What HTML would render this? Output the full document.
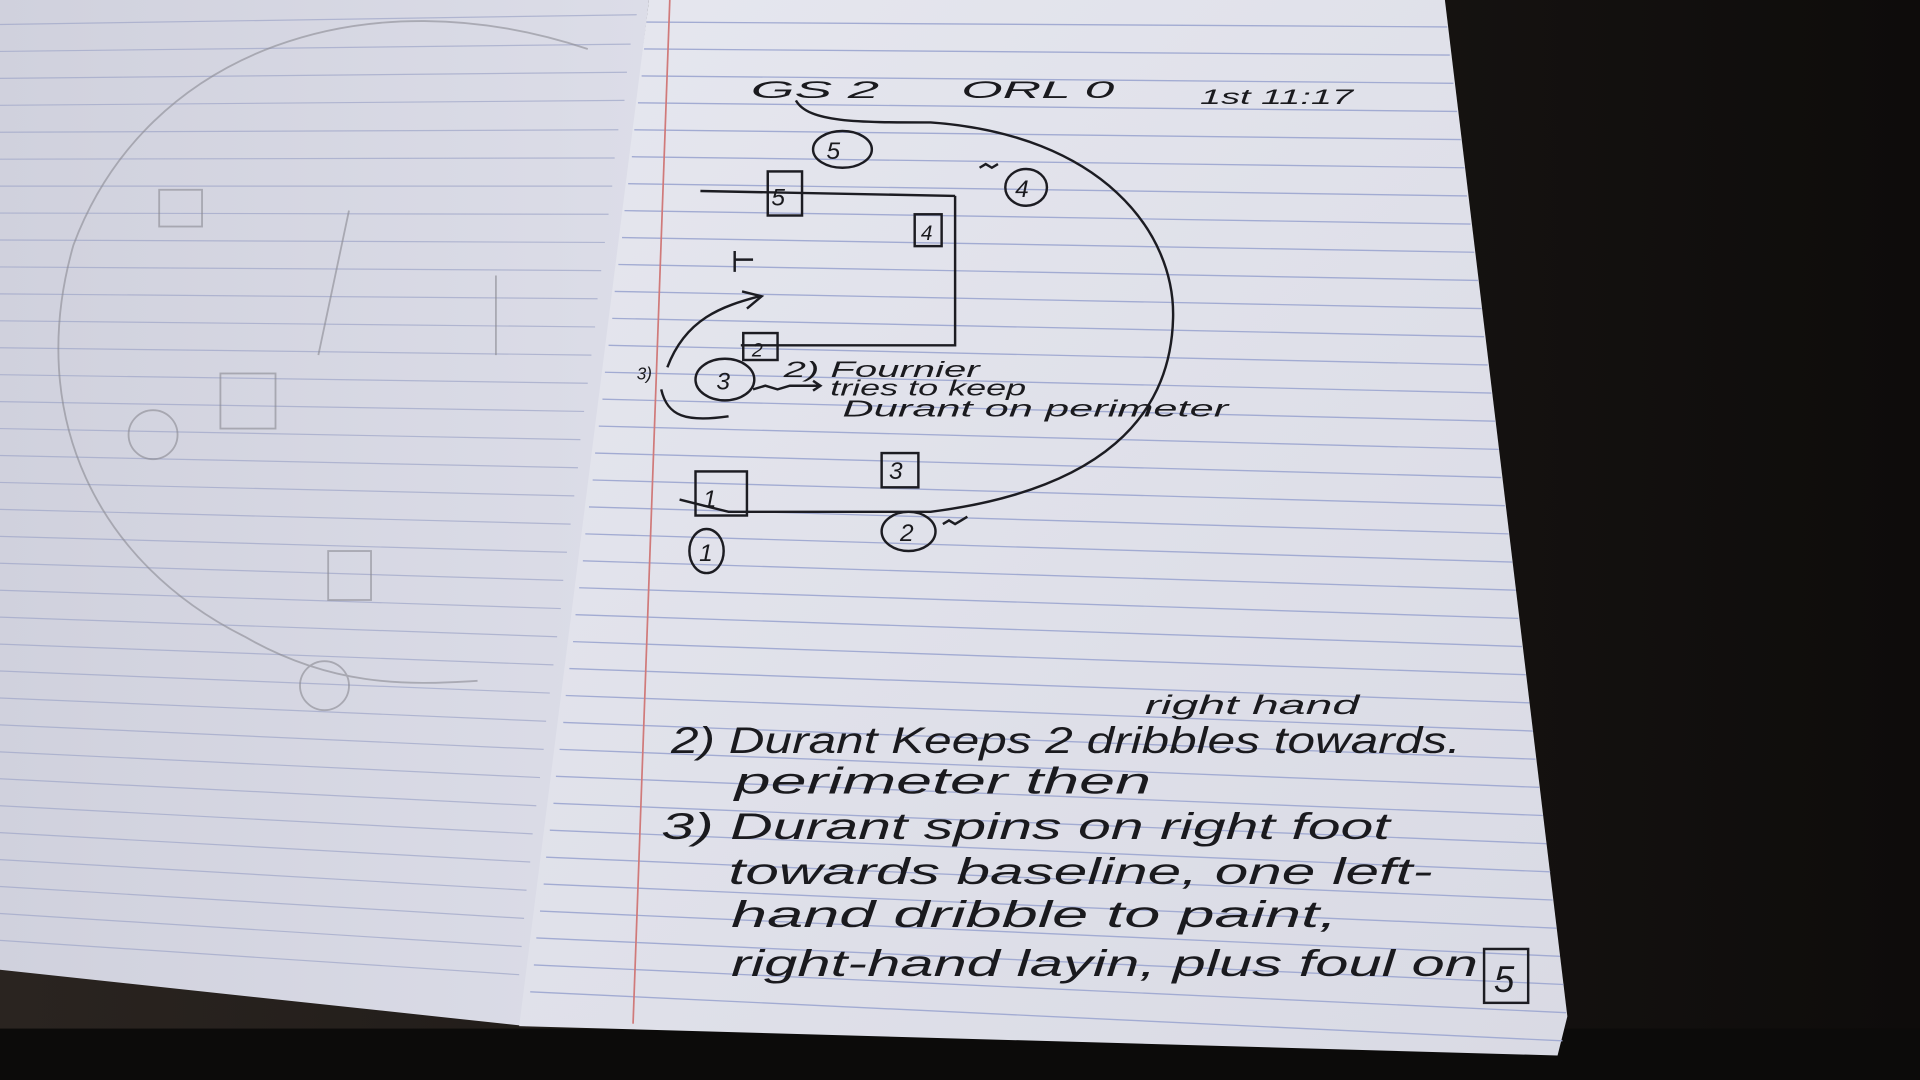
<!DOCTYPE html>
<html><head><meta charset="utf-8"><style>
html,body{margin:0;padding:0;background:#151210;width:1920px;height:1080px;overflow:hidden}
svg{display:block}
text{font-family:"Liberation Sans",sans-serif;font-style:italic;fill:#1a1a1e}
</style></head><body>
<svg width="1920" height="1080" viewBox="0 0 1568 882" preserveAspectRatio="none">
<defs>
<linearGradient id="rp" x1="0" y1="0" x2="1" y2="1">
<stop offset="0" stop-color="#e6e7ef"/><stop offset="1" stop-color="#d9dae4"/></linearGradient>
<linearGradient id="lp" x1="0" y1="0" x2="1" y2="0">
<stop offset="0" stop-color="#d0d1dd"/><stop offset="1" stop-color="#dcdde8"/></linearGradient>
<linearGradient id="bg" x1="0" y1="0" x2="1" y2="0">
<stop offset="0" stop-color="#2a2420"/><stop offset="1" stop-color="#0e0c0b"/></linearGradient>
</defs>
<rect width="1568" height="882" fill="url(#bg)"/>
<rect y="840" width="1568" height="42" fill="#0c0b0a"/>
<polygon points="0,0 530,0 430,838 0,792" fill="url(#lp)"/>
<g stroke="#9fa6c8" stroke-width="1" opacity="0.7">
<line x1="0" y1="20" x2="520" y2="12"/><line x1="0" y1="42" x2="515" y2="36"/>
<line x1="0" y1="64" x2="512" y2="59"/><line x1="0" y1="86" x2="510" y2="82"/>
<line x1="0" y1="108" x2="505" y2="106"/><line x1="0" y1="130" x2="502" y2="129"/>
<line x1="0" y1="152" x2="500" y2="152"/><line x1="0" y1="174" x2="497" y2="175"/>
<line x1="0" y1="196" x2="494" y2="198"/><line x1="0" y1="218" x2="491" y2="221"/>
<line x1="0" y1="240" x2="488" y2="244"/><line x1="0" y1="262" x2="486" y2="267"/>
<line x1="0" y1="284" x2="483" y2="290"/><line x1="0" y1="306" x2="480" y2="313"/>
<line x1="0" y1="328" x2="477" y2="336"/><line x1="0" y1="350" x2="474" y2="359"/>
<line x1="0" y1="372" x2="472" y2="382"/><line x1="0" y1="394" x2="469" y2="405"/>
<line x1="0" y1="416" x2="466" y2="428"/><line x1="0" y1="438" x2="463" y2="451"/>
<line x1="0" y1="460" x2="460" y2="474"/><line x1="0" y1="482" x2="458" y2="497"/>
<line x1="0" y1="504" x2="455" y2="520"/><line x1="0" y1="526" x2="452" y2="543"/>
<line x1="0" y1="548" x2="449" y2="566"/><line x1="0" y1="570" x2="446" y2="589"/>
<line x1="0" y1="592" x2="444" y2="612"/><line x1="0" y1="614" x2="441" y2="635"/>
<line x1="0" y1="636" x2="438" y2="658"/><line x1="0" y1="658" x2="435" y2="681"/>
<line x1="0" y1="680" x2="433" y2="704"/><line x1="0" y1="702" x2="430" y2="727"/>
<line x1="0" y1="724" x2="428" y2="750"/><line x1="0" y1="746" x2="426" y2="773"/>
<line x1="0" y1="768" x2="424" y2="796"/>
</g>
<g fill="none" stroke="#8a8a92" stroke-width="1.5" opacity="0.6">
<path d="M480,40 C300,-20 120,40 60,200 C20,340 80,460 200,520 C270,560 330,560 390,556"/>
<rect x="130" y="155" width="35" height="30"/><rect x="180" y="305" width="45" height="45"/>
<rect x="268" y="450" width="35" height="40"/><circle cx="265" cy="560" r="20"/>
<circle cx="125" cy="355" r="20"/><path d="M285,172 L260,290 M405,225 L405,290"/>
</g>
<polygon points="530,0 1180,0 1280,830 1272,862 424,838" fill="url(#rp)"/>
<g stroke="#a2abd2" stroke-width="1.1">
<line x1="528" y1="18" x2="1182" y2="22"/>
<line x1="526" y1="40" x2="1184" y2="45"/><line x1="524" y1="62" x2="1187" y2="68"/>
<line x1="521" y1="84" x2="1190" y2="91"/><line x1="518" y1="106" x2="1193" y2="114"/>
<line x1="516" y1="128" x2="1196" y2="137"/><line x1="513" y1="150" x2="1198" y2="160"/>
<line x1="510" y1="172" x2="1201" y2="183"/><line x1="508" y1="194" x2="1204" y2="206"/>
<line x1="505" y1="216" x2="1207" y2="229"/><line x1="502" y1="238" x2="1210" y2="252"/>
<line x1="500" y1="260" x2="1212" y2="275"/><line x1="497" y1="282" x2="1215" y2="298"/>
<line x1="494" y1="304" x2="1218" y2="321"/><line x1="492" y1="326" x2="1221" y2="344"/>
<line x1="489" y1="348" x2="1224" y2="367"/><line x1="486" y1="370" x2="1226" y2="390"/>
<line x1="484" y1="392" x2="1229" y2="413"/><line x1="481" y1="414" x2="1232" y2="436"/>
<line x1="478" y1="436" x2="1235" y2="459"/><line x1="476" y1="458" x2="1238" y2="482"/>
<line x1="473" y1="480" x2="1240" y2="505"/><line x1="470" y1="502" x2="1243" y2="528"/>
<line x1="468" y1="524" x2="1246" y2="551"/><line x1="465" y1="546" x2="1249" y2="574"/>
<line x1="462" y1="568" x2="1252" y2="597"/><line x1="460" y1="590" x2="1254" y2="620"/>
<line x1="457" y1="612" x2="1257" y2="643"/><line x1="454" y1="634" x2="1260" y2="666"/>
<line x1="452" y1="656" x2="1263" y2="689"/><line x1="449" y1="678" x2="1266" y2="712"/>
<line x1="446" y1="700" x2="1268" y2="735"/><line x1="444" y1="722" x2="1271" y2="758"/>
<line x1="441" y1="744" x2="1274" y2="781"/><line x1="438" y1="766" x2="1277" y2="804"/>
<line x1="436" y1="788" x2="1279" y2="827"/><line x1="433" y1="810" x2="1276" y2="850"/>
</g>
<line x1="547" y1="0" x2="517" y2="836" stroke="#d07a7a" stroke-width="1.4"/>
<g fill="none" stroke="#1c1c22" stroke-width="2">
<path d="M650,82 C660,100 700,100 760,100 C900,110 960,190 958,260 C956,340 900,400 760,418 L595,418 L555,408"/>
<path d="M572,156 L780,160 M780,160 L780,282 L605,282"/>
<path d="M600,205 L600,222 M600,212 L615,212"/>
<path d="M545,300 C560,260 590,250 620,242 M606,238 L622,242 L610,252"/>
<path d="M540,318 C545,340 560,345 595,340"/>
<path d="M800,137 l5,-3 5,3 5,-3"/><path d="M770,428 l5,-3 5,3 5,-3 5,-3"/>
<path d="M615,318 l10,-3 10,3 10,-3 l25,0 m-6,-4 l6,4 -6,4"/>
<rect x="627" y="140" width="28" height="36"/>
<rect x="747" y="175" width="22" height="26"/>
<rect x="607" y="272" width="28" height="22"/>
<rect x="720" y="370" width="30" height="28"/>
<rect x="568" y="385" width="42" height="36"/>
<ellipse cx="688" cy="122" rx="24" ry="15"/>
<ellipse cx="838" cy="153" rx="17" ry="15"/>
<ellipse cx="592" cy="310" rx="24" ry="17"/>
<ellipse cx="742" cy="434" rx="22" ry="16"/>
<ellipse cx="577" cy="450" rx="14" ry="18"/>
<rect x="1212" y="775" width="36" height="44"/>
</g>
<g font-size="20">
<text x="613" y="80" textLength="105" lengthAdjust="spacingAndGlyphs">GS 2</text>
<text x="785" y="80" textLength="125" lengthAdjust="spacingAndGlyphs">ORL 0</text>
<text x="980" y="85" font-size="17" textLength="125" lengthAdjust="spacingAndGlyphs">1st 11:17</text>
<text x="675" y="130">5</text><text x="630" y="168">5</text>
<text x="829" y="161">4</text><text x="752" y="196" font-size="17">4</text>
<text x="614" y="291" font-size="16">2</text><text x="585" y="318">3</text>
<text x="726" y="391">3</text><text x="574" y="414">1</text>
<text x="735" y="442">2</text><text x="571" y="458">1</text>
<text x="520" y="310" font-size="14">3)</text>
<text x="640" y="308" font-size="18" textLength="160" lengthAdjust="spacingAndGlyphs">2) Fournier</text>
<text x="678" y="323" font-size="18" textLength="160" lengthAdjust="spacingAndGlyphs">tries to keep</text>
<text x="688" y="340" font-size="19" textLength="315" lengthAdjust="spacingAndGlyphs">Durant on perimeter</text>
</g>
<g font-size="30">
<text x="935" y="583" font-size="22" textLength="175" lengthAdjust="spacingAndGlyphs">right hand</text>
<text x="548" y="615" textLength="645" lengthAdjust="spacingAndGlyphs">2) Durant Keeps 2 dribbles towards.</text>
<text x="600" y="648" textLength="340" lengthAdjust="spacingAndGlyphs">perimeter then</text>
<text x="540" y="685" textLength="595" lengthAdjust="spacingAndGlyphs">3) Durant spins on right foot</text>
<text x="595" y="722" textLength="575" lengthAdjust="spacingAndGlyphs">towards baseline, one left-</text>
<text x="597" y="757" textLength="495" lengthAdjust="spacingAndGlyphs">hand dribble to paint,</text>
<text x="597" y="797" textLength="610" lengthAdjust="spacingAndGlyphs">right-hand layin, plus foul on</text>
<text x="1220" y="810">5</text>
</g>
</svg>
</body></html>
